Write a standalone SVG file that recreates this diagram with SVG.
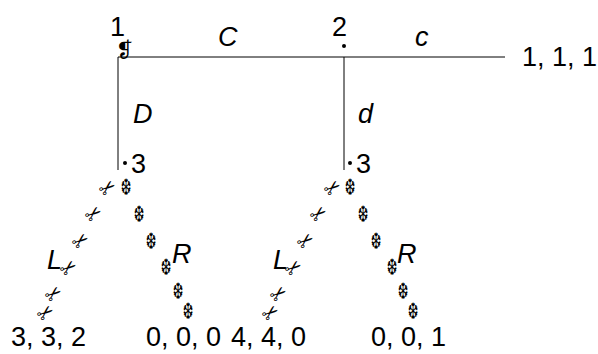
<svg xmlns="http://www.w3.org/2000/svg" width="598" height="354" viewBox="0 0 598 354">
<style>
text{font-family:"Liberation Sans",Arial,sans-serif;font-size:27px;fill:#000}
.i{font-style:italic}
.sc{font-family:"DejaVu Sans",sans-serif;font-size:20px}
.sf{font-family:"DejaVu Sans",sans-serif;font-size:18px}
line{stroke:#000;stroke-width:1}
</style>
<rect width="598" height="354" fill="#fff"/>
<g id="connectors">
<line x1="118" y1="57" x2="505" y2="57"/>
<line x1="118" y1="57" x2="118" y2="170"/>
<line x1="344" y1="57" x2="344" y2="170"/>
</g>
<g id="node1">
<text x="110" y="36">1</text>
<text x="116" y="57" style="font-family:'DejaVu Sans',sans-serif;font-size:21px;font-weight:bold">❡</text>
</g>
<g id="node2">
<text x="332" y="36">2</text>
<circle cx="344" cy="46" r="2"/>
</g>
<g id="payoff111"><text x="522" y="66">1, 1, 1</text></g>
<g id="labels">
<text class="i" x="218" y="46">C</text>
<text class="i" x="415" y="46">c</text>
<text class="i" x="133" y="123">D</text>
<text class="i" x="358" y="123">d</text>
<text class="i" x="47" y="269">L</text>
<text class="i" x="172" y="263">R</text>
<text class="i" x="273" y="269">L</text>
<text class="i" x="397" y="263">R</text>
</g>
<g id="node3a">
<circle cx="125" cy="163" r="2"/>
<text x="131" y="173">3</text>
</g>
<g id="node3b">
<circle cx="350" cy="163" r="2"/>
<text x="356" y="173">3</text>
</g>
<g id="edgesL">
<text class="sc" transform="translate(112,193) rotate(-40)" text-anchor="middle">✂</text>
<text class="sc" transform="translate(98,219) rotate(-40)" text-anchor="middle">✂</text>
<text class="sc" transform="translate(85,246) rotate(-40)" text-anchor="middle">✂</text>
<text class="sc" transform="translate(73,273) rotate(-40)" text-anchor="middle">✂</text>
<text class="sc" transform="translate(58,299) rotate(-40)" text-anchor="middle">✂</text>
<text class="sc" transform="translate(50,318) rotate(-40)" text-anchor="middle">✂</text>
<text class="sf" transform="translate(126,195) scale(0.7,1.25)" text-anchor="middle">❆</text>
<text class="sf" transform="translate(139,222) scale(0.7,1.25)" text-anchor="middle">❆</text>
<text class="sf" transform="translate(151,249) scale(0.7,1.25)" text-anchor="middle">❆</text>
<text class="sf" transform="translate(166,275) scale(0.7,1.25)" text-anchor="middle">❆</text>
<text class="sf" transform="translate(178,299) scale(0.7,1.25)" text-anchor="middle">❆</text>
<text class="sf" transform="translate(188,319) scale(0.7,1.25)" text-anchor="middle">❆</text>
</g>
<g id="edgesR">
<text class="sc" transform="translate(337,193) rotate(-40)" text-anchor="middle">✂</text>
<text class="sc" transform="translate(323,219) rotate(-40)" text-anchor="middle">✂</text>
<text class="sc" transform="translate(310,246) rotate(-40)" text-anchor="middle">✂</text>
<text class="sc" transform="translate(298,273) rotate(-40)" text-anchor="middle">✂</text>
<text class="sc" transform="translate(283,299) rotate(-40)" text-anchor="middle">✂</text>
<text class="sc" transform="translate(275,318) rotate(-40)" text-anchor="middle">✂</text>
<text class="sf" transform="translate(350,195) scale(0.7,1.25)" text-anchor="middle">❆</text>
<text class="sf" transform="translate(363,222) scale(0.7,1.25)" text-anchor="middle">❆</text>
<text class="sf" transform="translate(376,249) scale(0.7,1.25)" text-anchor="middle">❆</text>
<text class="sf" transform="translate(392,275) scale(0.7,1.25)" text-anchor="middle">❆</text>
<text class="sf" transform="translate(403,299) scale(0.7,1.25)" text-anchor="middle">❆</text>
<text class="sf" transform="translate(413,319) scale(0.7,1.25)" text-anchor="middle">❆</text>
</g>
<g id="leaf332"><text x="11" y="346">3, 3, 2</text></g>
<g id="leaf000"><text x="146" y="346">0, 0, 0</text></g>
<g id="leaf440"><text x="231" y="346">4, 4, 0</text></g>
<g id="leaf001"><text x="371" y="346">0, 0, 1</text></g>
</svg>
